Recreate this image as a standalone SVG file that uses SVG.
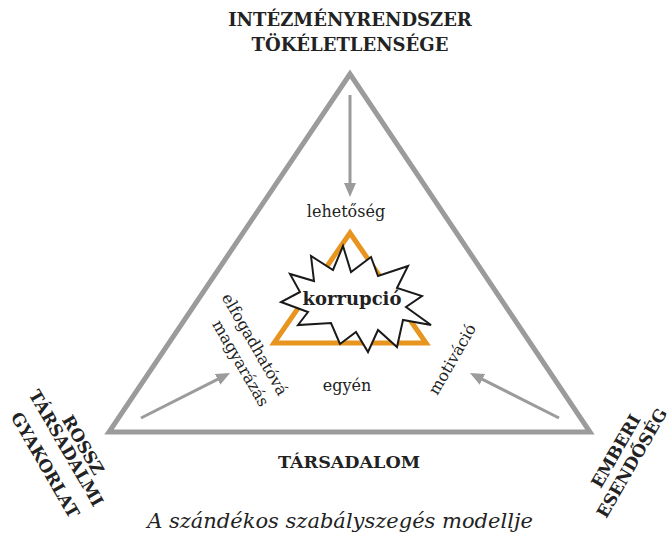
<svg xmlns="http://www.w3.org/2000/svg" width="672" height="545" viewBox="0 0 672 545">
  <style>
    .frame { fill: none; stroke: #9b9b9b; stroke-width: 5; stroke-linejoin: miter; }
    .arrow { fill: none; stroke: #9b9b9b; stroke-width: 3; }
    .core { fill: none; stroke: #e8951f; stroke-width: 5; stroke-linejoin: miter; }
    .burst { fill: #ffffff; stroke: #1a1a1a; stroke-width: 2; stroke-linejoin: miter; }
    .t { font-family: "DejaVu Serif", "Liberation Serif", serif; fill: #222222; }
    .cap { font-weight: bold; font-size: 17px; }
    .head { font-weight: bold; font-size: 18px; }
    .word { font-size: 16px; }
    .mid { text-anchor: middle; }
  </style>
  <defs>
    <marker id="tip" viewBox="0 0 14 12" refX="6" refY="6" markerWidth="14" markerHeight="12" markerUnits="userSpaceOnUse" orient="auto">
      <path d="M0,0 L14,6 L0,12 Z" fill="#9b9b9b"/>
    </marker>
  </defs>

  <!-- outer triangle: institutions / society / human nature -->
  <g id="frame">
    <polygon class="frame" points="350,74 109,432 590,432"/>
  </g>

  <!-- pressure arrows toward the centre -->
  <g id="connectors">
    <line class="arrow" x1="350" y1="95" x2="350" y2="189" marker-end="url(#tip)"/>
    <line class="arrow" x1="141" y1="418" x2="222.9" y2="376.6" marker-end="url(#tip)"/>
    <line class="arrow" x1="559" y1="418" x2="477.1" y2="376.6" marker-end="url(#tip)"/>
  </g>

  <!-- inner triangle with the burst -->
  <g id="core">
    <polygon class="core" points="350,233 274,343 426,343"/>
  </g>
  <g id="korrupcio">
    <polygon class="burst" points="343,246 351,272 371,257 378,276 408,266 397,288 422,296 406,307 431,325 403,320 397,347 378,330 368,352 356,332 340,344 331,323 298,325 308,312 281,302 300,292 290,274 314,281 311,256 333,270"/>
    <text class="t mid" x="352" y="305" style="font-weight:bold;font-size:18px">korrupció</text>
  </g>

  <!-- corner titles -->
  <g id="intezmenyrendszer">
    <text class="t head mid" x="350" y="26">INTÉZMÉNYRENDSZER</text>
    <text class="t head mid" x="350" y="51">TÖKÉLETLENSÉGE</text>
  </g>
  <g id="rossz-gyakorlat">
    <text class="t cap mid" transform="translate(78,448) rotate(60)">ROSSZ</text>
    <text class="t cap mid" transform="translate(61,451) rotate(60)">TÁRSADALMI</text>
    <text class="t cap mid" transform="translate(40,468) rotate(60)">GYAKORLAT</text>
  </g>
  <g id="emberi-esendoseg">
    <text class="t cap mid" transform="translate(621,454) rotate(-60)">EMBERI</text>
    <text class="t cap mid" transform="translate(637,466) rotate(-60)">ESENDŐSÉG</text>
  </g>
  <g id="tarsadalom">
    <text class="t head mid" x="349" y="468" style="font-size:17.5px">TÁRSADALOM</text>
  </g>

  <!-- inner labels -->
  <g id="lehetoseg">
    <text class="t word mid" x="346" y="217">lehetőség</text>
  </g>
  <g id="egyen">
    <text class="t word mid" x="347" y="391">egyén</text>
  </g>
  <g id="motivacio">
    <text class="t word mid" transform="translate(457,362) rotate(-60)">motiváció</text>
  </g>
  <g id="magyarazas">
    <text class="t word mid" transform="translate(250,347) rotate(60)">elfogadhatóvá</text>
    <text class="t word mid" transform="translate(236,366) rotate(60)">magyarázás</text>
  </g>

  <!-- caption -->
  <g id="caption">
    <text class="t mid" x="340" y="528" style="font-style:italic;font-size:21px">A szándékos szabályszegés modellje</text>
  </g>
</svg>
